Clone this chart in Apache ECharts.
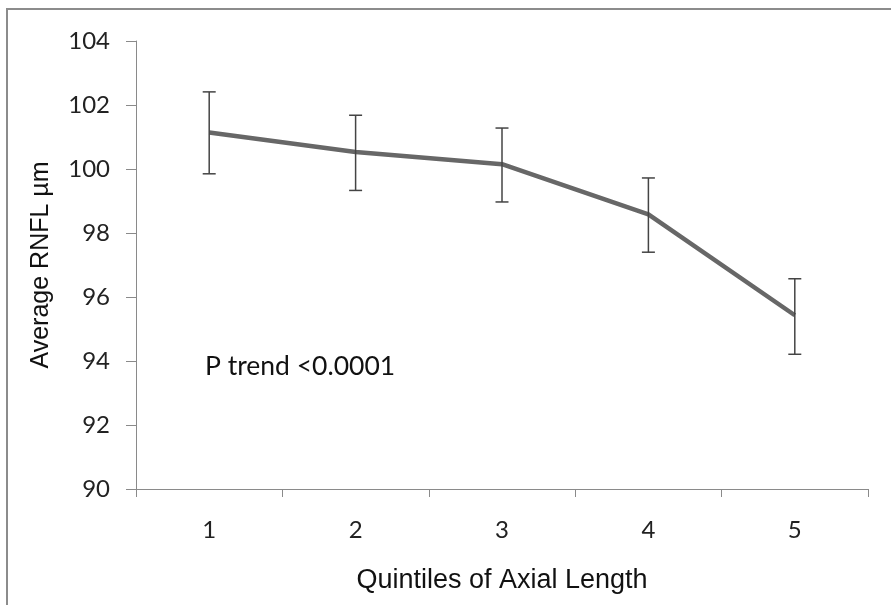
<!DOCTYPE html>
<html>
<head>
<meta charset="utf-8">
<script src="https://cdn.jsdelivr.net/npm/echarts@6/dist/echarts.min.js"></script>
<style>
  html, body { margin: 0; padding: 0; background: #ffffff; }
  #chart { width: 891px; height: 605px; }
</style>
</head>
<body>
<div id="chart"></div>
<script>
// Quintiles of axial length and mean RNFL thickness with error bounds
const quintiles = ['1', '2', '3', '4', '5'];
const meanRNFL = [101.14, 100.53, 100.15, 98.58, 95.43];
const upperRNFL = [102.41, 101.68, 101.28, 99.72, 96.57];
const lowerRNFL = [99.85, 99.33, 98.97, 97.40, 94.21];
const yTicks = { min: 90, max: 104, step: 2 };

const errorData = quintiles.map((q, i) => [i, lowerRNFL[i], upperRNFL[i]]);

const chart = echarts.init(document.getElementById('chart'), null, { renderer: 'canvas' });

chart.setOption({
  animation: false,
  backgroundColor: '#ffffff',
  grid: { left: 136, right: 23, top: 41, bottom: 116, containLabel: false },
  xAxis: {
    type: 'category',
    data: quintiles,
    boundaryGap: true,
    name: 'Quintiles of Axial Length',
    nameLocation: 'middle',
    nameGap: 78,
    nameTextStyle: { fontFamily: 'Liberation Sans', fontSize: 27, color: '#111' },
    axisLine: { lineStyle: { color: '#8a8a8a', width: 1 } },
    axisTick: { show: true, length: 8, lineStyle: { color: '#8a8a8a' } },
    axisLabel: { fontFamily: 'Lato', fontSize: 24, color: '#222', margin: 29 },
    splitLine: { show: false }
  },
  yAxis: {
    type: 'value',
    min: yTicks.min,
    max: yTicks.max,
    interval: yTicks.step,
    name: 'Average RNFL µm',
    nameLocation: 'middle',
    nameGap: 82,
    nameTextStyle: { fontFamily: 'Liberation Sans', fontSize: 25, color: '#111' },
    axisLine: { show: true, lineStyle: { color: '#8a8a8a', width: 1 } },
    axisTick: { show: true, length: 10, lineStyle: { color: '#8a8a8a' } },
    axisLabel: { fontFamily: 'Lato', fontSize: 24, color: '#222', margin: 26 },
    splitLine: { show: false }
  },
  graphic: [
    {
      type: 'rect',
      shape: { x: 7, y: 9, width: 920, height: 700 },
      style: { fill: 'none', stroke: '#8c8c8c', lineWidth: 2 },
      silent: true,
      z: -10
    },
    {
      type: 'text',
      left: 205,
      top: 353,
      style: { text: 'P trend <0.0001', fontFamily: 'Lato', fontSize: 26.5, fill: '#111' }
    }
  ],
  series: [
    {
      type: 'line',
      data: meanRNFL,
      symbol: 'none',
      lineStyle: { color: '#676767', width: 4.5 },
      z: 2
    },
    {
      type: 'custom',
      data: errorData,
      z: 3,
      renderItem: function (params, api) {
        const idx = api.value(0);
        const lo = api.coord([idx, api.value(1)]);
        const hi = api.coord([idx, api.value(2)]);
        const cap = 6.5;
        const style = { stroke: '#444', lineWidth: 1.5 };
        return {
          type: 'group',
          children: [
            { type: 'line', shape: { x1: hi[0], y1: hi[1], x2: lo[0], y2: lo[1] }, style: style },
            { type: 'line', shape: { x1: hi[0] - cap, y1: hi[1], x2: hi[0] + cap, y2: hi[1] }, style: style },
            { type: 'line', shape: { x1: lo[0] - cap, y1: lo[1], x2: lo[0] + cap, y2: lo[1] }, style: style }
          ]
        };
      }
    }
  ]
});
</script>
</body>
</html>
